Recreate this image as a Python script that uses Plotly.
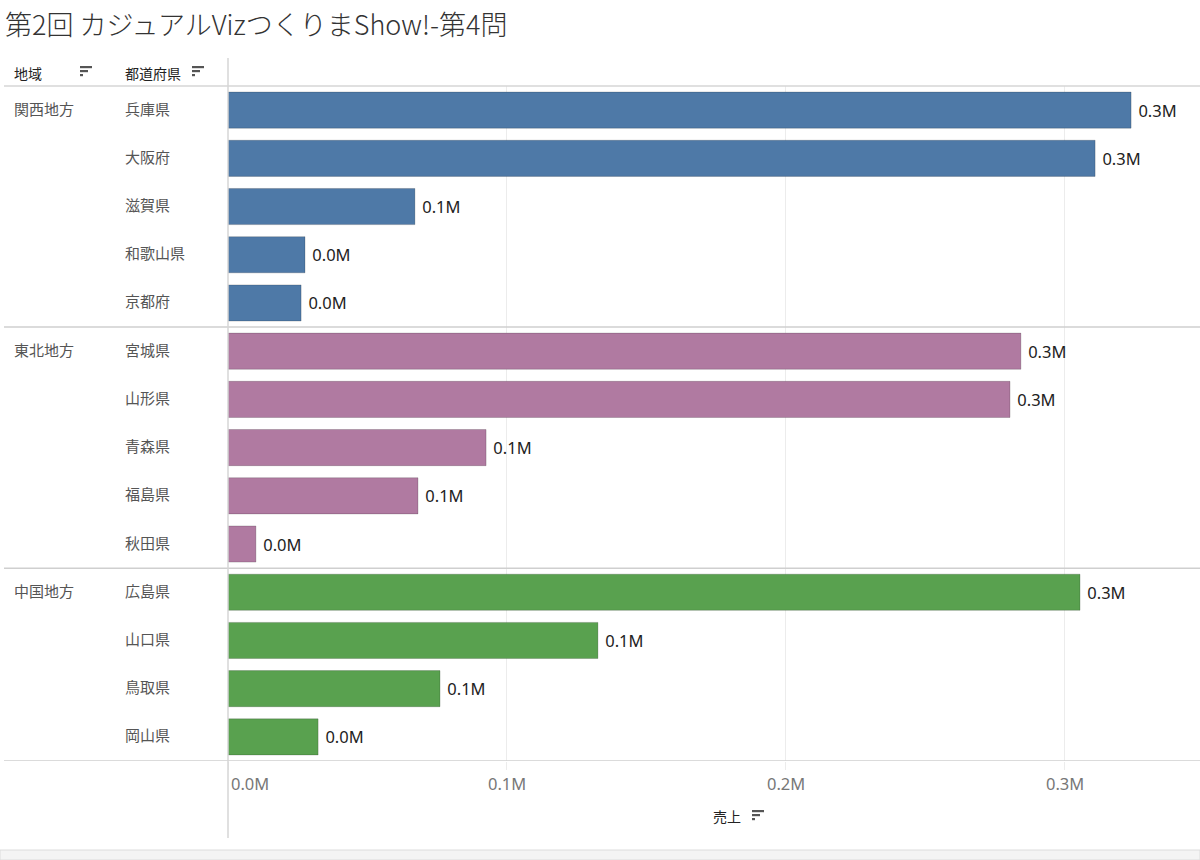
import plotly.graph_objects as go

W, H = 1200, 860

# データ (売上, 百万円単位で読み取り)
regions = ["関西地方", "東北地方", "中国地方"]
region_colors = ["#4e79a7", "#b07aa1", "#59a14f"]
kansai_pref = ["兵庫県", "大阪府", "滋賀県", "和歌山県", "京都府"]
kansai_sales = [0.3237, 0.3108, 0.0670, 0.0276, 0.0262]
tohoku_pref = ["宮城県", "山形県", "青森県", "福島県", "秋田県"]
tohoku_sales = [0.2842, 0.2803, 0.0925, 0.0681, 0.0100]
chugoku_pref = ["広島県", "山口県", "鳥取県", "岡山県"]
chugoku_sales = [0.3054, 0.1326, 0.0760, 0.0323]
x_ticks = [0.0, 0.1, 0.2, 0.3]
x_max = 0.3484

groups = [(kansai_pref, kansai_sales), (tohoku_pref, tohoku_sales), (chugoku_pref, chugoku_sales)]
all_pref = kansai_pref + tohoku_pref + chugoku_pref

JP = "Noto Sans CJK JP"
NUM = "Noto Sans, Noto Sans CJK JP"


def px(x):
    return x / W


def py(y):
    return 1 - y / H


fig = go.Figure()
for (prefs, sales), name, col in zip(groups, regions, region_colors):
    fig.add_trace(go.Bar(
        x=sales, y=prefs, orientation="h", name=name,
        marker=dict(color=col, line=dict(color="rgba(0,0,0,0.18)", width=1)),
        width=0.75,
        text=[f"\u00a0{v:.1f}M" for v in sales], textposition="outside",
        textfont=dict(family=NUM, size=16.5, color="#222"),
        cliponaxis=False,
    ))

shapes = []
annotations = []

# 行ラベル
for p in all_pref:
    annotations.append(dict(x=px(123), y=p, xref="paper", yref="y", text=p,
                            showarrow=False, xanchor="left", yanchor="middle", yshift=2,
                            font=dict(family=JP, size=15, color="#555")))

# 地域ラベルと区切り線
idx = 0
for (prefs, sales), name in zip(groups, regions):
    annotations.append(dict(x=px(12), y=prefs[0], xref="paper", yref="y", text=name,
                            showarrow=False, xanchor="left", yanchor="middle", yshift=2,
                            font=dict(family=JP, size=15, color="#555")))
    idx += len(prefs)
    shapes.append(dict(type="line", xref="paper", yref="y", x0=px(4), x1=1,
                       y0=idx - 0.5, y1=idx - 0.5,
                       line=dict(color="#cfcfcf", width=1.5)))

# ヘッダー線・縦線
shapes.append(dict(type="line", xref="paper", yref="paper", x0=px(4), x1=1,
                   y0=py(86), y1=py(86), line=dict(color="#d6d6d6", width=1.5)))
shapes.append(dict(type="line", xref="paper", yref="paper", x0=px(228), x1=px(228),
                   y0=py(58), y1=py(838), line=dict(color="#d6d6d6", width=1.5)))
# 下部の帯
shapes.append(dict(type="rect", xref="paper", yref="paper", x0=0, x1=1,
                   y0=0, y1=py(850), fillcolor="#f4f4f4",
                   line=dict(color="#dcdcdc", width=1)))


def sort_icon(x, y):
    for i, ln in enumerate([12, 8, 3]):
        shapes.append(dict(type="rect", xref="paper", yref="paper",
                           x0=px(x), x1=px(x + ln),
                           y0=py(y + i * 4), y1=py(y + i * 4 + 2.2),
                           fillcolor="#555", line=dict(width=0)))


annotations.append(dict(x=px(12), y=py(73), xref="paper", yref="paper", text="地域",
                        showarrow=False, xanchor="left", yanchor="middle",
                        font=dict(family=JP, size=14, color="#222")))
sort_icon(80, 66)
annotations.append(dict(x=px(123), y=py(73), xref="paper", yref="paper", text="都道府県",
                        showarrow=False, xanchor="left", yanchor="middle",
                        font=dict(family=JP, size=14, color="#222")))
sort_icon(192, 66)

# x軸ラベル
for i, t in enumerate(x_ticks):
    annotations.append(dict(x=t, y=py(783), xref="x", yref="paper", text=f"{t:.1f}M",
                            showarrow=False, xanchor="left" if i == 0 else "center",
                            yanchor="middle", xshift=1 if i == 0 else 0,
                            font=dict(family=NUM, size=16.5, color="#777")))
annotations.append(dict(x=px(743), y=py(816), xref="paper", yref="paper", text="売上",
                        showarrow=False, xanchor="right", yanchor="middle",
                        font=dict(family=JP, size=14, color="#222")))
sort_icon(752, 810)

fig.update_layout(
    width=W, height=H, autosize=False,
    margin=dict(l=0, r=0, t=0, b=0),
    paper_bgcolor="white", plot_bgcolor="white",
    showlegend=False,
    bargap=0.25,
    title=dict(text="第2回 カジュアルVizつくりまShow!-第4問", x=px(5), xanchor="left",
               y=py(26), yanchor="middle",
               font=dict(family=JP, size=27, color="#333", weight=300)),
    xaxis=dict(domain=[px(228), 1], range=[0, x_max], tickvals=x_ticks,
               showticklabels=False, showgrid=True, gridcolor="#ececec", gridwidth=1,
               zeroline=False, ticks="outside", ticklen=8, tickcolor="#ececec",
               showline=False, fixedrange=True),
    yaxis=dict(domain=[py(761), py(86)], categoryorder="array", categoryarray=all_pref,
               range=[len(all_pref) - 0.5, -0.5], showticklabels=False,
               showgrid=False, zeroline=False, fixedrange=True),
    shapes=shapes,
    annotations=annotations,
)

fig.write_html("out.html", config={"displayModeBar": False},
               post_script="document.body.style.margin='0';")
